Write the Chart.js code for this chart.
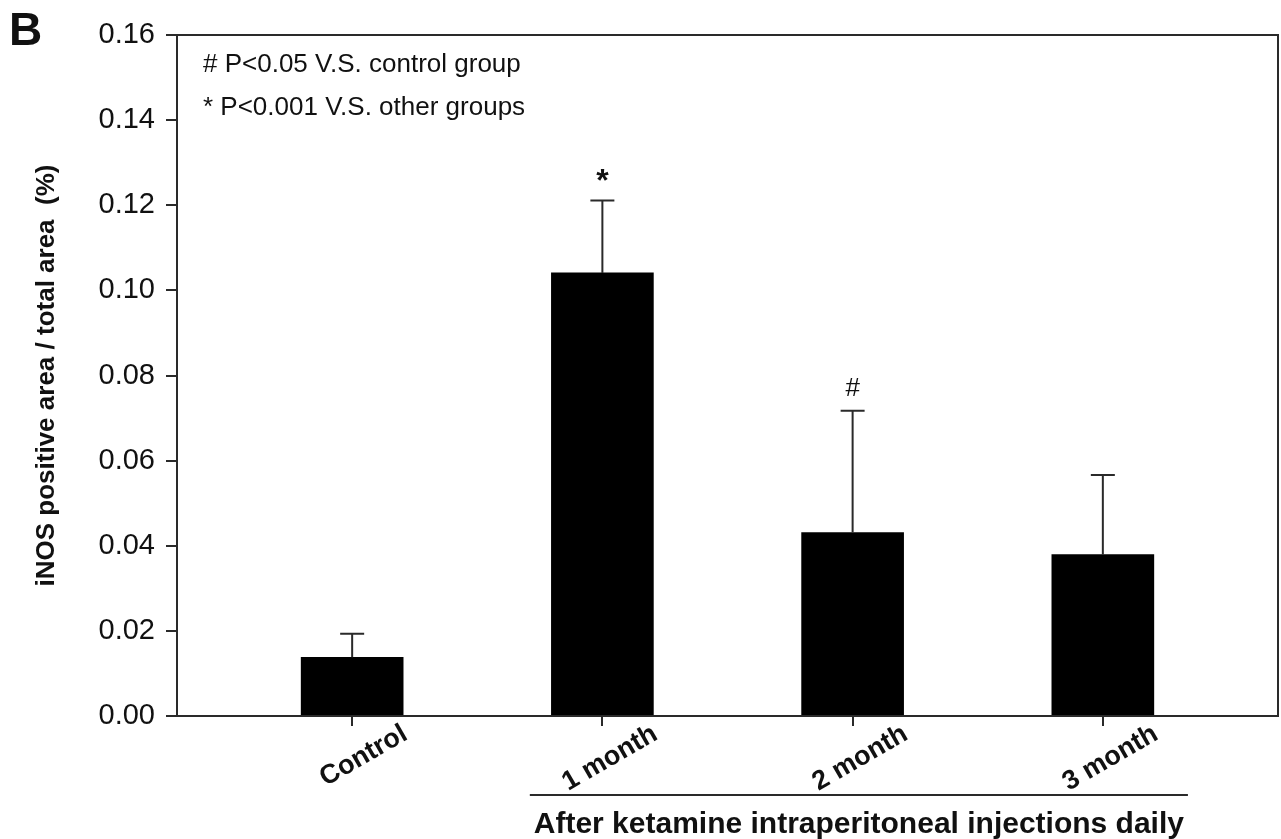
<!DOCTYPE html>
<html>
<head>
<meta charset="utf-8">
<script src="https://cdn.jsdelivr.net/npm/chart.js@4"></script>
<style>
  html, body { margin: 0; padding: 0; background: #fff; }
  #wrap { width: 1281px; height: 839px; }
</style>
</head>
<body>
<div id="wrap"><canvas id="barChart" width="1281" height="839"></canvas></div>
<script>
// chart data
const categories = ['Control', '1 month', '2 month', '3 month'];
const meanValues = [0.0138, 0.1041, 0.0431, 0.0379];
const upperErrors = [0.0055, 0.0170, 0.0286, 0.0187];
const sigMarks = ['', '*', '#', ''];
const yTicks = [0, 0.02, 0.04, 0.06, 0.08, 0.10, 0.12, 0.14, 0.16];
const notes = ['# P<0.05 V.S. control group', '* P<0.001 V.S. other groups'];
const groupSpan = [0.71, 3.34]; // x range of the bracket under the treated groups
const groupTitle = 'After ketamine intraperitoneal injections daily';
const panelLetter = 'B';
const yTitle = 'iNOS positive area / total area  (%)';

const FONT = '"Liberation Sans", Arial, Helvetica, sans-serif';
const INK = '#111';
const LINE = '#2a2a2a';

const extras = {
    id: 'extras',
    afterDatasetsDraw(chart) {
        const { ctx, chartArea, scales: { x, y } } = chart;
        ctx.save();

        // error bars (upper only)
        ctx.strokeStyle = LINE;
        ctx.lineWidth = 2;
        meanValues.forEach((v, i) => {
            const px = x.getPixelForValue(i);
            const yBar = y.getPixelForValue(v);
            const yTop = y.getPixelForValue(v + upperErrors[i]);
            ctx.beginPath();
            ctx.moveTo(px, yBar);
            ctx.lineTo(px, yTop);
            ctx.moveTo(px - 12, yTop);
            ctx.lineTo(px + 12, yTop);
            ctx.stroke();

            if (sigMarks[i]) {
                ctx.fillStyle = INK;
                ctx.textAlign = 'center';
                ctx.textBaseline = 'alphabetic';
                if (sigMarks[i] === '*') {
                    ctx.font = 'bold 32px ' + FONT;
                    ctx.fillText(sigMarks[i], px, yTop - 10);
                } else {
                    ctx.font = '26px ' + FONT;
                    ctx.fillText(sigMarks[i], px, yTop - 15);
                }
            }
        });

        // frame around the plot
        ctx.strokeRect(chartArea.left, chartArea.top, chartArea.right - chartArea.left, chartArea.bottom - chartArea.top);

        // legend notes
        ctx.fillStyle = INK;
        ctx.font = '26px ' + FONT;
        ctx.textAlign = 'left';
        ctx.textBaseline = 'middle';
        notes.forEach((t, i) => ctx.fillText(t, chartArea.left + 26, chartArea.top + 30 + i * 43));

        // bracket and group title
        const bx0 = x.getPixelForValue(groupSpan[0]);
        const bx1 = x.getPixelForValue(groupSpan[1]);
        ctx.beginPath();
        ctx.moveTo(bx0, 795);
        ctx.lineTo(bx1, 795);
        ctx.stroke();
        ctx.font = 'bold 30px ' + FONT;
        ctx.textAlign = 'center';
        ctx.fillText(groupTitle, (bx0 + bx1) / 2, 825);

        // panel letter
        ctx.font = 'bold 46px ' + FONT;
        ctx.textAlign = 'left';
        ctx.textBaseline = 'alphabetic';
        ctx.fillText(panelLetter, 9, 45);
        ctx.restore();
    }
};

new Chart(document.getElementById('barChart').getContext('2d'), {
    type: 'bar',
    data: {
        datasets: [{
            data: categories.map((c, i) => ({ x: i, y: meanValues[i] })),
            backgroundColor: '#000',
            borderWidth: 0,
            barThickness: 102,
        }],
    },
    options: {
        responsive: false,
        animation: false,
        events: [],
        layout: { padding: { top: 35, right: 3, left: 0, bottom: 0 } },
        plugins: { legend: { display: false }, tooltip: { enabled: false } },
        scales: {
            x: {
                type: 'linear',
                min: -0.7,
                max: 3.7,
                offset: false,
                afterBuildTicks: (scale) => { scale.ticks = categories.map((c, i) => ({ value: i })); },
                afterFit: (scale) => { scale.height = 123; },
                ticks: {
                    autoSkip: false,
                    minRotation: 30,
                    maxRotation: 30,
                    labelOffset: 53,
                    padding: -8,
                    color: INK,
                    font: { family: FONT, size: 27, weight: 'bold' },
                    callback: (v) => categories[v],
                },
                grid: { offset: false, drawOnChartArea: false, drawTicks: true, tickLength: 10, color: LINE, lineWidth: 2 },
                border: { display: true, color: LINE, width: 2 },
            },
            y: {
                min: 0,
                max: 0.16,
                afterBuildTicks: (scale) => { scale.ticks = yTicks.map((v) => ({ value: v })); },
                afterFit: (scale) => { scale.width = 177; },
                ticks: {
                    padding: 11,
                    color: INK,
                    font: { family: FONT, size: 29 },
                    callback: (v) => v.toFixed(2),
                },
                grid: { drawOnChartArea: false, drawTicks: true, tickLength: 11, color: LINE, lineWidth: 2 },
                border: { display: true, color: LINE, width: 2 },
                title: {
                    display: true,
                    text: yTitle,
                    color: INK,
                    font: { family: FONT, size: 26, weight: 'bold' },
                    padding: { top: 31, bottom: 0 },
                },
            },
        },
    },
    plugins: [extras],
});
</script>
</body>
</html>
